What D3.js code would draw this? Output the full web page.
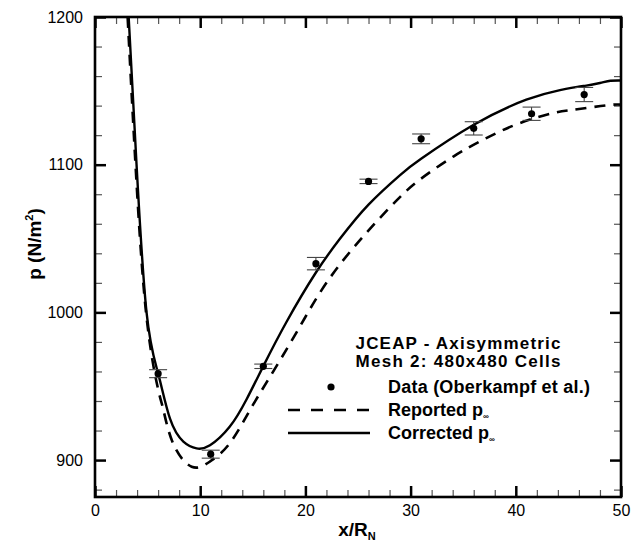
<!DOCTYPE html>
<html>
<head>
<meta charset="utf-8">
<script src="https://cdn.jsdelivr.net/npm/d3@7"></script>
<style>
body{margin:0;background:#fff}
text{font-family:"Liberation Sans",Arial,Helvetica,sans-serif}
</style>
</head>
<body>
<div id="chart"></div>
<script>
// measured points (Oberkampf et al.)
var dataX = [6, 11, 16, 21, 26, 31, 36, 41.5, 46.5];
var dataY = [958.5, 904, 963.5, 1033, 1088.7, 1117.5, 1124.6, 1134.5, 1147.5];
var dataErr = [2.7, 2.7, 1.5, 4.2, 1.5, 3.3, 4.5, 4.5, 4.8];

// corrected p-inf (solid)
var corrX = [3.2, 3.95, 4.9, 6.0, 7.13, 8.4, 9.66, 10.93, 12.8, 14.4, 16, 18.2, 21, 23.3, 26, 29, 31, 36, 41, 44.2, 46.1, 46.7, 48, 49, 50];
var corrY = [1200, 1100, 1000, 958.7, 928, 912.5, 907.9, 910, 922.5, 941, 963.6, 993.5, 1027, 1050, 1073, 1093, 1104, 1127, 1144, 1150.5, 1153, 1153.5, 1155.3, 1156.8, 1157];

// reported p-inf (dashed)
var repX = [3.1, 3.85, 4.85, 6.0, 6.5, 7.44, 9.19, 10.9, 12.8, 14.7, 16.6, 19.2, 22, 25.5, 28.7, 30.9, 34.1, 37.2, 40.4, 43.6, 45.5, 48.6, 50];
var repY = [1200, 1100, 1000, 948, 934, 911, 895.5, 898.9, 911.3, 933.5, 956, 987, 1020, 1051.5, 1076, 1090, 1105.7, 1118, 1128.2, 1135, 1137.2, 1140.2, 1140.7];

var xMajor = [0, 10, 20, 30, 40, 50];
var yMajor = [900, 1000, 1100, 1200];

var W = 642, H = 550;
var L = 95, R = 621, T = 17, B = 497;

var svg = d3.select("#chart").append("svg")
  .attr("width", W)
  .attr("height", H);

var x = d3.scaleLinear().domain([0, 50]).range([L, R]);
var y = d3.scaleLinear().domain([875, 1200]).range([B, T]);

var xMinor = d3.range(0, 51, 2).filter(function(v){ return v % 10 !== 0; });
var yMinor = d3.range(880, 1201, 20).filter(function(v){ return v % 100 !== 0; });

function styleAxis(g, w, col){
  g.select(".domain").remove();
  g.selectAll(".tick line").attr("stroke", col).attr("stroke-width", w);
}

// minor ticks
svg.append("g").attr("transform", "translate(0," + B + ")")
  .call(d3.axisBottom(x).tickValues(xMinor).tickSize(-7).tickFormat(""))
  .call(styleAxis, 1.2, "#555");
svg.append("g").attr("transform", "translate(0," + T + ")")
  .call(d3.axisTop(x).tickValues(xMinor).tickSize(-7).tickFormat(""))
  .call(styleAxis, 1.2, "#555");
svg.append("g").attr("transform", "translate(" + L + ",0)")
  .call(d3.axisLeft(y).tickValues(yMinor).tickSize(-7).tickFormat(""))
  .call(styleAxis, 1.2, "#555");
svg.append("g").attr("transform", "translate(" + R + ",0)")
  .call(d3.axisRight(y).tickValues(yMinor).tickSize(-7).tickFormat(""))
  .call(styleAxis, 1.2, "#555");

// major ticks with labels
var gx = svg.append("g").attr("transform", "translate(0," + B + ")")
  .call(d3.axisBottom(x).tickValues(xMajor).tickSizeInner(-11).tickSizeOuter(0).tickPadding(8).tickFormat(d3.format("d")))
  .call(styleAxis, 2.5, "#000");
gx.selectAll("text").attr("font-size", 16).attr("fill", "#000");

var gy = svg.append("g").attr("transform", "translate(" + L + ",0)")
  .call(d3.axisLeft(y).tickValues(yMajor).tickSizeInner(-11).tickSizeOuter(0).tickPadding(12).tickFormat(d3.format("d")))
  .call(styleAxis, 2.5, "#000");
gy.selectAll("text").attr("font-size", 16).attr("fill", "#000");

svg.append("g").attr("transform", "translate(0," + T + ")")
  .call(d3.axisTop(x).tickValues(xMajor).tickSizeInner(-11).tickSizeOuter(0).tickFormat(""))
  .call(styleAxis, 2.5, "#000");
svg.append("g").attr("transform", "translate(" + R + ",0)")
  .call(d3.axisRight(y).tickValues(yMajor).tickSizeInner(-11).tickSizeOuter(0).tickFormat(""))
  .call(styleAxis, 2.5, "#000");

// clip for curves
svg.append("clipPath").attr("id", "clip")
  .append("rect").attr("x", L).attr("y", T).attr("width", R - L).attr("height", B - T);

var line = d3.line()
  .x(function(d){ return x(d[0]); })
  .y(function(d){ return y(d[1]); })
  .curve(d3.curveNatural);

var corr = d3.zip(corrX, corrY);
var rep = d3.zip(repX, repY);

svg.append("path").datum(rep)
  .attr("clip-path", "url(#clip)")
  .attr("d", line)
  .attr("fill", "none")
  .attr("stroke", "#000")
  .attr("stroke-width", 2.6)
  .attr("stroke-dasharray", "11,8");

svg.append("path").datum(corr)
  .attr("clip-path", "url(#clip)")
  .attr("d", line)
  .attr("fill", "none")
  .attr("stroke", "#000")
  .attr("stroke-width", 2.4);

// data with error bars
var pts = d3.range(dataX.length).map(function(i){
  return {x: dataX[i], y: dataY[i], e: dataErr[i]};
});
var eb = svg.append("g").selectAll("g").data(pts).enter().append("g");
eb.append("line")
  .attr("x1", function(d){ return x(d.x); })
  .attr("x2", function(d){ return x(d.x); })
  .attr("y1", function(d){ return y(d.y - d.e); })
  .attr("y2", function(d){ return y(d.y + d.e); })
  .attr("stroke", "#333").attr("stroke-width", 1);
eb.append("line")
  .attr("x1", function(d){ return x(d.x) - 9; })
  .attr("x2", function(d){ return x(d.x) + 9; })
  .attr("y1", function(d){ return y(d.y + d.e); })
  .attr("y2", function(d){ return y(d.y + d.e); })
  .attr("stroke", "#444").attr("stroke-width", 1.1);
eb.append("line")
  .attr("x1", function(d){ return x(d.x) - 9; })
  .attr("x2", function(d){ return x(d.x) + 9; })
  .attr("y1", function(d){ return y(d.y - d.e); })
  .attr("y2", function(d){ return y(d.y - d.e); })
  .attr("stroke", "#444").attr("stroke-width", 1.1);
eb.append("circle")
  .attr("cx", function(d){ return x(d.x); })
  .attr("cy", function(d){ return y(d.y); })
  .attr("r", 3.6)
  .attr("fill", "#000");

// frame
svg.append("rect")
  .attr("x", L).attr("y", T).attr("width", R - L).attr("height", B - T)
  .attr("fill", "none").attr("stroke", "#000").attr("stroke-width", 2.6);

// axis titles
var xt = svg.append("text")
  .attr("x", 357).attr("y", 536)
  .attr("text-anchor", "middle")
  .attr("font-size", 19).attr("font-weight", "bold");
xt.append("tspan").text("x/R");
xt.append("tspan").attr("font-size", 11).attr("dy", 4).text("N");

var yt = svg.append("text")
  .attr("transform", "translate(41,244) rotate(-90)")
  .attr("text-anchor", "middle")
  .attr("font-size", 19).attr("font-weight", "bold");
yt.append("tspan").text("p (N/m");
yt.append("tspan").attr("font-size", 11).attr("dy", -8).text("2");
yt.append("tspan").attr("dy", 8).text(")");

// legend
var lg = svg.append("g").attr("font-size", 17).attr("font-weight", "bold");
lg.append("text").attr("x", 458).attr("y", 349).attr("text-anchor", "middle")
  .attr("textLength", 205).attr("lengthAdjust", "spacing").text("JCEAP - Axisymmetric");
lg.append("text").attr("x", 458).attr("y", 367).attr("text-anchor", "middle")
  .attr("textLength", 205).attr("lengthAdjust", "spacing").text("Mesh 2: 480x480 Cells");

lg.append("circle").attr("cx", 331).attr("cy", 387).attr("r", 3.6).attr("fill", "#000");
lg.append("text").attr("x", 388).attr("y", 393).attr("font-size", 18)
  .attr("textLength", 202).attr("lengthAdjust", "spacing").text("Data (Oberkampf et al.)");

lg.append("line").attr("x1", 288).attr("x2", 370).attr("y1", 410).attr("y2", 410)
  .attr("stroke", "#000").attr("stroke-width", 2.6).attr("stroke-dasharray", "12,11");
var t2 = lg.append("text").attr("x", 388).attr("y", 416).attr("font-size", 18);
t2.append("tspan").text("Reported p");
t2.append("tspan").attr("font-size", 8).attr("dy", 3).text("\u221e");

lg.append("line").attr("x1", 288).attr("x2", 370).attr("y1", 433).attr("y2", 433)
  .attr("stroke", "#000").attr("stroke-width", 2.4);
var t3 = lg.append("text").attr("x", 388).attr("y", 439).attr("font-size", 18);
t3.append("tspan").text("Corrected p");
t3.append("tspan").attr("font-size", 8).attr("dy", 3).text("\u221e");
</script>
</body>
</html>
